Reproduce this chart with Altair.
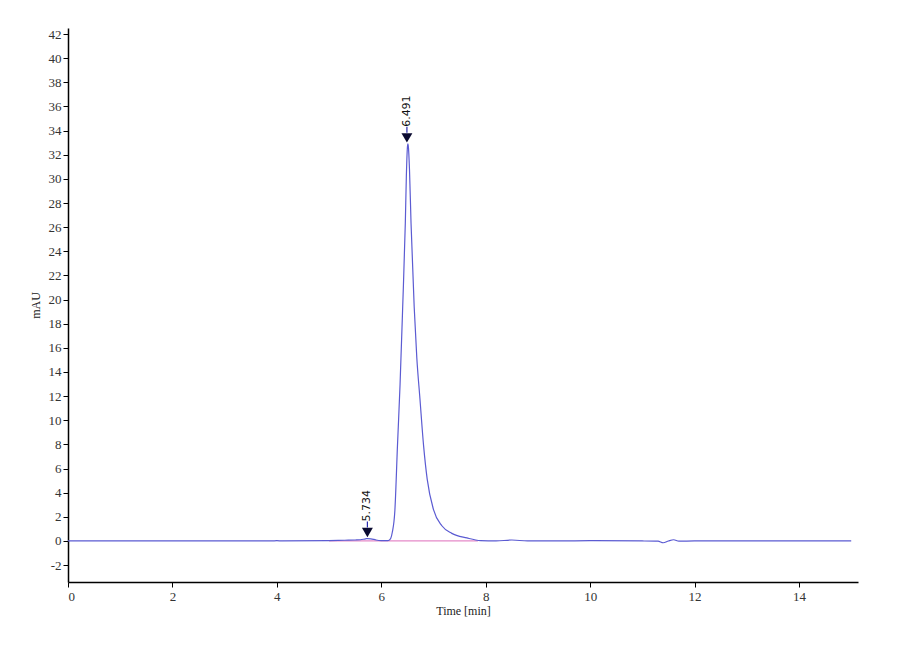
import altair as alt
import pandas as pd

# Chromatogram trace (time in min, absorbance in mAU)
times = [0, 1, 2, 3, 3.9, 4.0, 4.1, 5.0, 5.3, 5.5, 5.6, 5.7, 5.734, 5.8, 5.9, 6.0,
         6.1, 6.14, 6.18, 6.21, 6.26, 6.31, 6.36, 6.41, 6.46, 6.48, 6.50, 6.51, 6.52,
         6.54, 6.57, 6.63, 6.68, 6.74, 6.81, 6.88, 7.0, 7.16, 7.35, 7.64, 7.9, 8.2,
         8.5, 8.8, 9.5, 10, 11, 11.3, 11.4, 11.5, 11.6, 11.7, 12, 13, 14, 15]
mau = [0, 0, 0, 0, 0, 0.03, 0, 0.03, 0.06, 0.08, 0.1, 0.18, 0.2, 0.18, 0.08, 0.03,
       0.02, 0.04, 0.2, 0.7, 2.5, 7.9, 13.0, 19.4, 26.3, 30.2, 32.6, 32.9, 32.6,
       30.8, 26.3, 19.4, 15.2, 11.8, 7.9, 5.1, 2.6, 1.26, 0.63, 0.25, 0.03, 0.0,
       0.08, 0.0, 0.0, 0.02, 0.0, -0.02, -0.15, 0.0, 0.1, -0.02, 0.0, 0.0, 0.0, 0.0]

# Integration baseline
base_start = [5.0]
base_end = [7.85]

# Peak annotations
peak_times = [5.734, 6.491]
peak_heights = [0.2, 32.9]
peak_labels = ["5.734", "6.491"]

y_ticks = list(range(-2, 43, 2))
x_ticks = list(range(0, 15, 2))

trace = pd.DataFrame({"t": times, "v": mau})
peaks = pd.DataFrame({"t": peak_times, "v": peak_heights, "label": peak_labels})
base = pd.DataFrame({"t": base_start, "t2": base_end, "v": [0.0]})

xs = alt.Scale(domain=[0, 15.13], nice=False, zero=False)
ys = alt.Scale(domain=[-3.4, 42.5], nice=False, zero=False)

FONT = "Liberation Serif"
neg = "datum.value < 0 ? '-' + abs(datum.value) : '' + datum.value"

xaxis = alt.Axis(values=x_ticks, title="Time [min]", labelExpr=neg, labelPadding=3,
                 titlePadding=2)
yaxis = alt.Axis(values=y_ticks, title="mAU", labelExpr=neg, labelPadding=2,
                 titlePadding=6)

X = alt.X("t:Q", scale=xs, axis=xaxis)
Y = alt.Y("v:Q", scale=ys, axis=yaxis)

baseline = alt.Chart(base).mark_rule(color="#e58ac8", strokeWidth=1.2).encode(
    x=X, x2="t2:Q", y=Y)

line = alt.Chart(trace).mark_line(color="#5b5bd2", strokeWidth=1.2,
                                  interpolate="monotone").encode(x=X, y=Y)

tri = alt.Chart(peaks).mark_point(shape="triangle-down", filled=True, color="#0a0a30",
                                   size=120, opacity=1, yOffset=-6).encode(x=X, y=Y)

stem = alt.Chart(peaks).mark_rule(color="#2a2ab0", strokeWidth=1.2, yOffset=-11,
                                   y2Offset=-17).encode(x=X, y=Y, y2="v:Q")

labels = alt.Chart(peaks).mark_text(angle=270, align="left", baseline="middle",
                                     font="DejaVu Sans", fontSize=11, color="#111",
                                     yOffset=-17, dx=0).encode(x=X, y=Y, text="label:N")

chart = alt.layer(baseline, line, tri, stem, labels).properties(
    width=790, height=554,
    autosize=alt.AutoSizeParams(type="none"),
    padding={"left": 60, "top": 20, "right": 30, "bottom": 60},
    background="white",
).configure_view(stroke=None).configure_axis(
    grid=False, domainColor="black", domainWidth=1.5, tickColor="black", tickSize=5,
    labelFont=FONT, labelFontSize=13, labelColor="#333", labelOverlap=False,
    titleFont=FONT, titleFontSize=12, titleFontWeight="normal", titleColor="#222",
)

chart.save("out.html", embed_options={"renderer": "svg", "actions": False})
